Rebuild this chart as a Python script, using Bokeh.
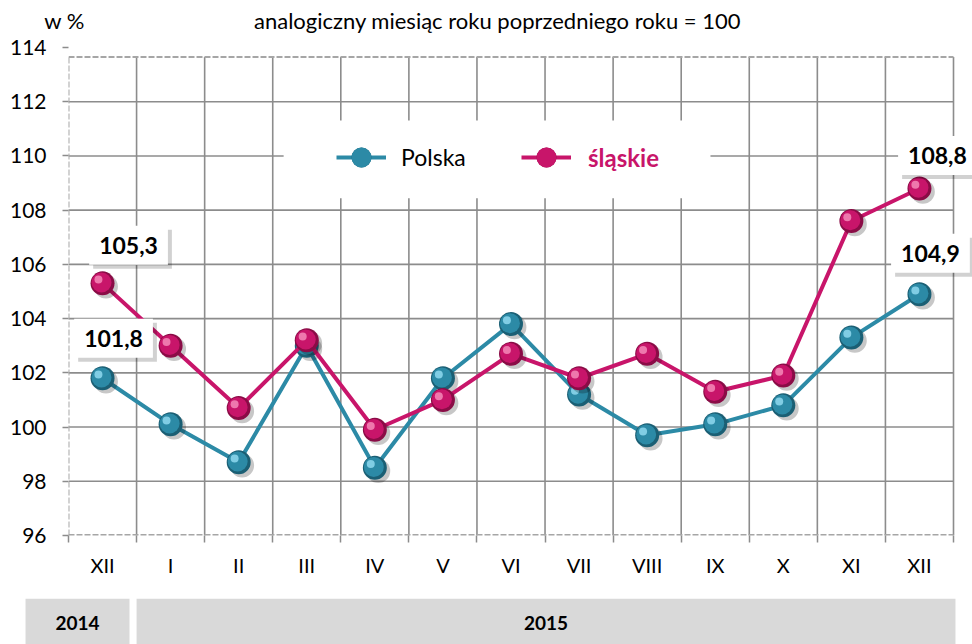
from bokeh.plotting import figure
from bokeh.models import (ColumnDataSource, FixedTicker, Range1d, Legend, LegendItem)
from bokeh.embed import file_html
from bokeh.resources import INLINE
from bokeh.core.properties import value

# ---------------- data ----------------
months = ["XII", "I", "II", "III", "IV", "V", "VI", "VII", "VIII", "IX", "X", "XI", "XII"]
polska = [101.8, 100.1, 98.7, 103.0, 98.5, 101.8, 103.8, 101.2, 99.7, 100.1, 100.8, 103.3, 104.9]
slaskie = [105.3, 103.0, 100.7, 103.2, 99.9, 101.0, 102.7, 101.8, 102.7, 101.3, 101.9, 107.6, 108.8]
years = ["2014", "2015"]
year_first = [0, 1]
year_last = [0, 12]
y_ticks = [96, 98, 100, 102, 104, 106, 108, 110, 112, 114]
title_text = "analogiczny miesiąc roku poprzedniego roku = 100"
unit_text = "w %"
series_names = ["Polska", "śląskie"]

# ---------------- style ----------------
FONT = "Lato"
GRID = "#8c8c8c"
BORDER = "#a6a6a6"
C_POL = "#2c8aa6"
C_POL_DARK = "#1b5f74"
C_POL_LIGHT = "#8fd8ee"
C_SL = "#c8156a"
C_SL_DARK = "#8a0c46"
C_SL_LIGHT = "#f58ab8"
TOP = 113.65
W = 972
H0 = 34
PX = 68.08  # pixels per category

x = list(range(len(months)))
n = len(months)
x_end = n - 0.5 + 19 / PX

# ---------------- header ----------------
p0 = figure(width=W, height=H0, x_range=Range1d(0, W), y_range=Range1d(0, H0),
            output_backend="svg", toolbar_location=None, min_border=0,
            x_axis_location=None, y_axis_location=None)
p0.outline_line_color = None
p0.grid.visible = False
p0.text(x=[64, 497], y=[H0 - 20, H0 - 20], text=[unit_text, title_text], text_align="center",
        text_baseline="middle", text_font=value(FONT), text_font_size="22px",
        text_color="#000000")

# ---------------- main chart ----------------
p = figure(width=W, height=598 - H0, x_range=Range1d(-0.5, x_end), y_range=Range1d(96, 114),
           output_backend="svg", toolbar_location=None,
           min_border_left=68, min_border_right=0, min_border_top=47 - H0, min_border_bottom=63)
p.outline_line_color = None
p.background_fill_color = "white"
p.border_fill_color = "white"
p.grid.visible = False

# y axis
p.yaxis.ticker = FixedTicker(ticks=y_ticks)
p.yaxis.axis_line_color = None
p.yaxis.major_tick_line_color = GRID
p.yaxis.major_tick_line_width = 1.5
p.yaxis.major_tick_out = 6
p.yaxis.major_tick_in = 0
p.yaxis.minor_tick_line_color = None
p.yaxis.major_label_text_font = FONT
p.yaxis.major_label_text_font_size = "21px"
p.yaxis.major_label_text_color = "#000000"
p.yaxis.major_label_standoff = 16

# x axis
bounds = [i - 0.5 for i in range(n + 1)]
p.xaxis.ticker = FixedTicker(ticks=x, minor_ticks=bounds)
p.xaxis.major_label_overrides = {i: m for i, m in enumerate(months)}
p.xaxis.axis_line_color = None
p.xaxis.major_tick_out = 0
p.xaxis.major_tick_in = 0
p.xaxis.major_tick_line_color = None
p.xaxis.minor_tick_out = 7
p.xaxis.minor_tick_in = 0
p.xaxis.minor_tick_line_color = GRID
p.xaxis.minor_tick_line_width = 1.5
p.xaxis.major_label_text_font = FONT
p.xaxis.major_label_text_font_size = "20px"
p.xaxis.major_label_text_color = "#000000"
p.xaxis.major_label_standoff = 10

# grid and borders
hgrid = [t for t in y_ticks if 96 < t < TOP]
p.segment(x0=[bounds[0]] * len(hgrid), y0=hgrid, x1=[bounds[-1]] * len(hgrid), y1=hgrid,
          line_color=GRID, line_width=1.6)
inner = bounds[1:]
p.segment(x0=inner, y0=[96] * len(inner), x1=inner, y1=[TOP] * len(inner),
          line_color=GRID, line_width=1.6)
p.segment(x0=[bounds[0]], y0=[96], x1=[bounds[0]], y1=[TOP],
          line_color=BORDER, line_width=2, line_dash="6 2")
p.segment(x0=[bounds[0]], y0=[TOP], x1=[bounds[-1]], y1=[TOP],
          line_color=BORDER, line_width=2, line_dash="6 2")
p.segment(x0=[bounds[0]], y0=[96], x1=[bounds[-1]], y1=[96],
          line_color=BORDER, line_width=3, line_dash="6 2")

# white legend background
p.quad(left=[2.66], right=[8.93], bottom=[108.44], top=[111.31],
       fill_color="white", line_color=None)


def sphere_series(vals, col, dark, light):
    src = ColumnDataSource(dict(x=x, y=vals,
                                xs=[v + 0.05 for v in x], ys=[v - 0.12 for v in vals],
                                xh=[v - 0.06 for v in x], yh=[v + 0.14 for v in vals],
                                xm=[v - 0.015 for v in x], ym=[v + 0.03 for v in vals]))
    ln = p.line("x", "y", source=src, line_color=col, line_width=4)
    p.scatter("xs", "ys", source=src, size=24, fill_color="#000000", fill_alpha=0.22, line_color=None)
    base = p.scatter("x", "y", source=src, size=24, fill_color=dark, line_color=None)
    mid = p.scatter("xm", "ym", source=src, size=20, fill_color=col, line_color=None)
    p.scatter("xh", "yh", source=src, size=8, fill_color=light, fill_alpha=0.85, line_color=None)
    return ln, base, mid


l1, b1, m1 = sphere_series(polska, C_POL, C_POL_DARK, C_POL_LIGHT)
l2, b2, m2 = sphere_series(slaskie, C_SL, C_SL_DARK, C_SL_LIGHT)

# legends
leg1 = Legend(items=[LegendItem(label=series_names[0], renderers=[l1, b1, m1])],
              location=(268, 353), padding=0, margin=0, border_line_color=None,
              background_fill_alpha=0, glyph_width=50, glyph_height=50, label_standoff=15,
              label_text_font=FONT, label_text_font_size="23px", label_text_color="#000000")
leg2 = Legend(items=[LegendItem(label=series_names[1], renderers=[l2, b2, m2])],
              location=(453, 353), padding=0, margin=0, border_line_color=None,
              background_fill_alpha=0, glyph_width=50, glyph_height=50, label_standoff=17,
              label_text_font=FONT, label_text_font_size="24px", label_text_color=C_SL,
              label_text_font_style="bold")
p.add_layout(leg1)
p.add_layout(leg2)

# data labels (first and last point of each series)
def fmt(v):
    return f"{v:.1f}".replace(".", ",")

lab_x = [0, 0, n - 1, n - 1]
lab_y = [slaskie[0], polska[0], slaskie[-1], polska[-1]]
lab_t = [fmt(v) for v in lab_y]
lab_dx = [26, 11, 18, 11]
lab_dy = [-38, -40, -33, -41]
lsrc = ColumnDataSource(dict(x=lab_x, y=lab_y, t=lab_t, dx=lab_dx, dy=lab_dy,
                             sdx=[d + 4 for d in lab_dx], sdy=[d + 4 for d in lab_dy]))
pad = dict(left=10, right=10, top=11, bottom=11)
p.text(x="x", y="y", text="t", source=lsrc, x_offset="sdx", y_offset="sdy",
       text_align="center", text_baseline="middle", text_font=value(FONT),
       text_font_size="23px", text_font_style="bold", text_alpha=0,
       background_fill_color="#000000", background_fill_alpha=0.18, padding=pad)
p.text(x="x", y="y", text="t", source=lsrc, x_offset="dx", y_offset="dy",
       text_align="center", text_baseline="middle", text_font=value(FONT),
       text_font_size="23px", text_font_style="bold", text_color="#000000",
       background_fill_color="white", padding=pad)

# ---------------- year bar ----------------
p2 = figure(width=W, height=46, x_range=Range1d(-0.5 - 68 / PX, x_end), y_range=Range1d(0, 1),
            output_backend="svg", toolbar_location=None, min_border=0,
            x_axis_location=None, y_axis_location=None)
p2.outline_line_color = None
p2.grid.visible = False
pad_l = [-0.631, 0.0]
pad_r = [-0.104, 0.029]
yl = [f - 0.5 + a for f, a in zip(year_first, pad_l)]
yr = [l + 0.5 + b for l, b in zip(year_last, pad_r)]
ysrc = ColumnDataSource(dict(l=yl, r=yr, c=[(a + b) / 2 for a, b in zip(yl, yr)], t=years))
p2.quad(left="l", right="r", bottom=0, top=1, source=ysrc, fill_color="#d9d9d9", line_color=None)
p2.text(x="c", y=0.457, text="t", source=ysrc, text_align="center", text_baseline="middle",
        text_font=value(FONT), text_font_size="19px", text_font_style="bold", text_color="#000000")

open("out.html", "w").write(file_html([p0, p, p2], INLINE))
